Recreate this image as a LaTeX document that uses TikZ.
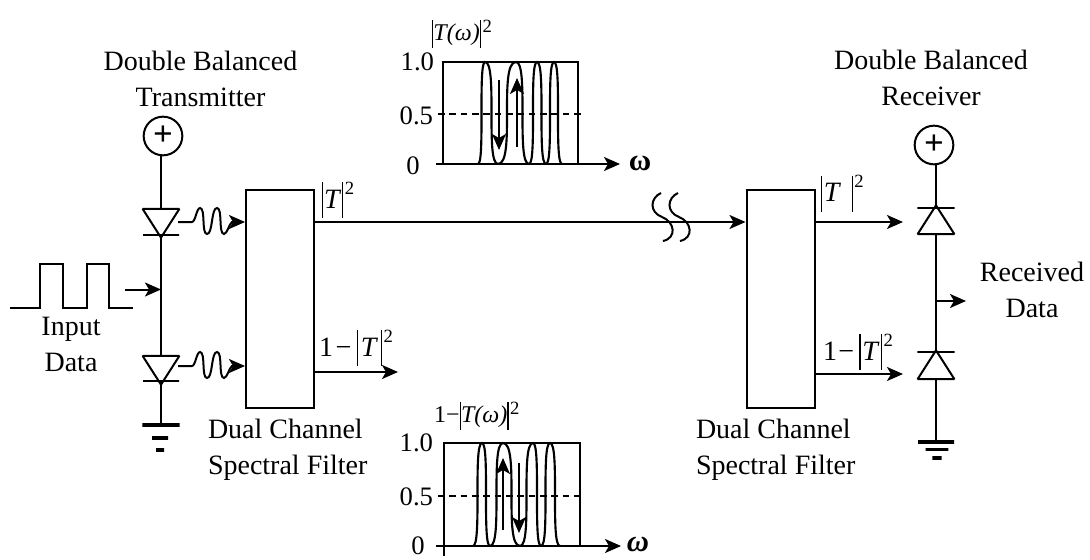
\documentclass[tikz,border=0pt]{standalone}
\usepackage{fontspec}
\setmainfont{Liberation Serif}
\usetikzlibrary{arrows.meta,shapes.geometric}
\newcommand{\modT}[2][27pt]{\rule[\dimexpr -#1*28/100\relax]{1.1pt}{#1}\textit{#2}\rule[\dimexpr -#1*28/100\relax]{1.1pt}{#1}\hspace{1pt}\raisebox{\dimexpr #1*72/100-9pt\relax}{\fontsize{14}{14}\selectfont 2}}

\begin{document}
\begin{tikzpicture}[
  x=0.75pt,y=-0.75pt,
  line width=1.5pt,
  lbl/.style={font=\fontsize{21}{27}\selectfont,align=center,inner sep=0pt},
  tick/.style={font=\fontsize{20}{20}\selectfont,inner sep=0pt},
  filterbox/.style={draw,minimum width=51pt,minimum height=163.5pt,inner sep=0pt},
  plusnode/.style={draw,circle,minimum size=29pt,inner sep=0pt,font=\fontsize{26}{26}\selectfont\bfseries},
  diode/.style={draw,isosceles triangle,isosceles triangle stretches,inner sep=0pt,
                minimum width=27.5pt,minimum height=21.5pt,miter limit=2},
  diodedown/.style={diode,shape border rotate=-90},
  diodeup/.style={diode,shape border rotate=90},
  hbar/.style={draw,minimum height=0pt,inner sep=0pt},
  gndbar/.style={hbar,line width=2.6pt},
  arr/.style={-{Stealth[length=12pt,width=10.5pt,inset=3pt]}},
  comb/.style={line width=1.6pt},
]

% ---- Transmitter ------------------------------------------------------------
\node[lbl] (lblTx) at (200.5,78.5) {Double Balanced\\Transmitter};
\node[plusnode] (plusT) at (163,136) {+};
\node[diodedown] (dT1) at (161,219) {};
\node[hbar,minimum width=27pt] (barT1) at (161,235) {};
\node[diodedown] (dT2) at (161,366) {};
\node[hbar,minimum width=27pt] (barT2) at (161,381) {};
\node[gndbar,minimum width=28pt] (gndT1) at (161,425) {};
\node[gndbar,minimum width=12pt] (gndT2) at (160,438) {};
\node[gndbar,minimum width=6pt] (gndT3) at (160,450) {};
\coordinate (tapT) at (161,289.5);
\draw (plusT.south -| dT1.lower side) -- (dT1.lower side);
\draw (barT1) -- (dT2.lower side);
\draw (barT2) -- (gndT1);

% ---- Input data -------------------------------------------------------------
\node[lbl] (lblIn) at (71,344.5) {Input\\Data};
\draw (10,308) -- (40,308) -- (40,264) -- (63,264) -- (63,308) -- (87,308)
      -- (87,264) -- (109,264) -- (109,308) -- (133,308);
\coordinate (inT) at (125,289.5);
\draw[arr] (inT) -- (tapT);

% ---- Filters ----------------------------------------------------------------
\node[filterbox] (fTx) at (280,299) {};
\node[filterbox] (fRx) at (780.5,299) {};
\node[lbl,align=left,anchor=west] (lblFTx) at (207,449.5) {Dual Channel\\Spectral Filter};
\node[lbl,align=left,anchor=west] (lblFRx) at (695,449.5) {Dual Channel\\Spectral Filter};

% ---- Laser outputs ----------------------------------------------------------
\coordinate (wT1) at (178,222);
\coordinate (wT2) at (178,366);
\foreach \w in {wT1,wT2}{
  \draw[arr] (\w) -- ++(14,0) to[out=0,in=180,looseness=0.55] ++(8,-14)
    to[out=0,in=180,looseness=0.55] ++(7,26)
    to[out=0,in=180,looseness=0.55] ++(10,-26)
    to[out=0,in=180,looseness=0.55] ++(7,26)
    to[out=0,in=210,looseness=0.55] ++(8,-12)
    -- (\w -| fTx.west);
}

% ---- Fibre link -------------------------------------------------------------
\coordinate (fibA) at (fTx.east |- wT1);
\draw[arr] (fibA) -- (fibA -| fRx.west);
\foreach \s in {0,17}{
  \draw[fill=none] (661+\s,193) .. controls (650+\s,198) and (649+\s,212) .. (662+\s,217)
    .. controls (675+\s,222) and (677+\s,238) .. (663+\s,241);
}

% ---- Filter outputs ---------------------------------------------------------
\coordinate (oTx) at (398,372);
\coordinate (oRxA) at (903,222);
\coordinate (oRxB) at (903,374);
\draw[arr] (oTx -| fTx.east) -- (oTx);
\draw[arr] (oRxA -| fRx.east) -- (oRxA);
\draw[arr] (oRxB -| fRx.east) -- (oRxB);
\node[lbl,anchor=west] (lblTa) at (321,200) {\modT{\hspace{.5pt}T\hspace{.5pt}}};
\node[lbl,anchor=west] (lblTb) at (318,348) {1\hspace{2pt}\textminus\hspace{4pt}\modT{\hspace{2pt}T\hspace{2pt}}};
\node[lbl,anchor=west] (lblTc) at (820,193.5) {\modT{\hspace{1pt}T\hspace{8pt}}};
\node[lbl,anchor=west] (lblTd) at (822,352) {1\hspace{1pt}\textminus\hspace{4pt}\modT{\hspace{1pt}T\hspace{1pt}}};

% ---- Receiver ---------------------------------------------------------------
\node[lbl] (lblRx) at (931,77.5) {Double Balanced\\Receiver};
\node[plusnode] (plusR) at (934,145) {+};
\node[hbar,minimum width=28pt] (barR1) at (936,208) {};
\node[diodeup] (dR1) at (936,224) {};
\node[hbar,minimum width=28pt] (barR2) at (936,352) {};
\node[diodeup] (dR2) at (936,369) {};
\node[gndbar,minimum width=27pt] (gndR1) at (936,442) {};
\node[gndbar,minimum width=17pt] (gndR2) at (937,449.5) {};
\node[gndbar,minimum width=7pt] (gndR3) at (937,458) {};
\coordinate (tapR) at (936,301);
\coordinate (outR) at (966,301);
\draw (plusR.south -| barR1) -- (barR1);
\draw (dR1.lower side) -- (barR2);
\draw (dR2.lower side) -- (gndR1);
\draw[arr] (tapR) -- (outR);
\node[lbl] (lblOut) at (1032,289.5) {Received\\Data};

% ---- Upper response ---------------------------------------------------------
\node[lbl,anchor=west,font=\fontsize{18}{18}\selectfont] (lblUp) at (431,34) {\modT[21pt]{T(ω)}};
\node[tick,anchor=east] (uA) at (435,62) {1.0};
\node[tick,anchor=east] (uB) at (434,116) {0.5};
\node[tick] (uC) at (413,166) {0};
\node[lbl,font=\fontsize{23}{23}\selectfont\bfseries] (uW) at (640,163) {ω};
\draw (443,164) -- (443,62) -- (578,62) -- (578,164);
\draw[dashed,dash pattern=on 5pt off 3.5pt] (438,114) -- (582,114);
\draw[arr] (436,164) -- (620,164);
\foreach \l/\p/\r in {478/485/498,498/516/529,529/537/546,546/554/562}{
  \draw[comb] (\l,164) .. controls (\p,164) and (\l,62) .. (\p,62)
    .. controls (\r,62) and (\p,164) .. (\r,164);
}
\draw[arr] (499,80) -- (499,150);
\draw[arr] (517,147) -- (517,78);

% ---- Lower response ---------------------------------------------------------
\node[lbl,anchor=west,font=\fontsize{18}{18}\selectfont] (lblLo) at (433,416) {1\textminus\modT[21pt]{T(ω)}};
\node[tick,anchor=east] (lA) at (434,443) {1.0};
\node[tick,anchor=east] (lB) at (434,497) {0.5};
\node[tick] (lC) at (418,546) {0};
\node[lbl,font=\fontsize{23}{23}\selectfont\itshape\bfseries] (lW) at (638,544) {ω};
\draw (444,556) -- (444,443) -- (580,443) -- (580,546);
\draw[dashed,dash pattern=on 5pt off 3.5pt] (438,496) -- (585,496);
\draw[arr] (436,546) -- (621,546);
\foreach \l/\p/\r in {473/482/490,490/503/520,520/533/541,541/550/560}{
  \draw[comb] (\l,546) .. controls (\p,546) and (\l,443) .. (\p,443)
    .. controls (\r,443) and (\p,546) .. (\r,546);
}
\draw[arr] (503,530) -- (503,458);
\draw[arr] (519,463) -- (519,533);

\useasboundingbox (0,0) rectangle (1090,560);
\end{tikzpicture}
\end{document}
